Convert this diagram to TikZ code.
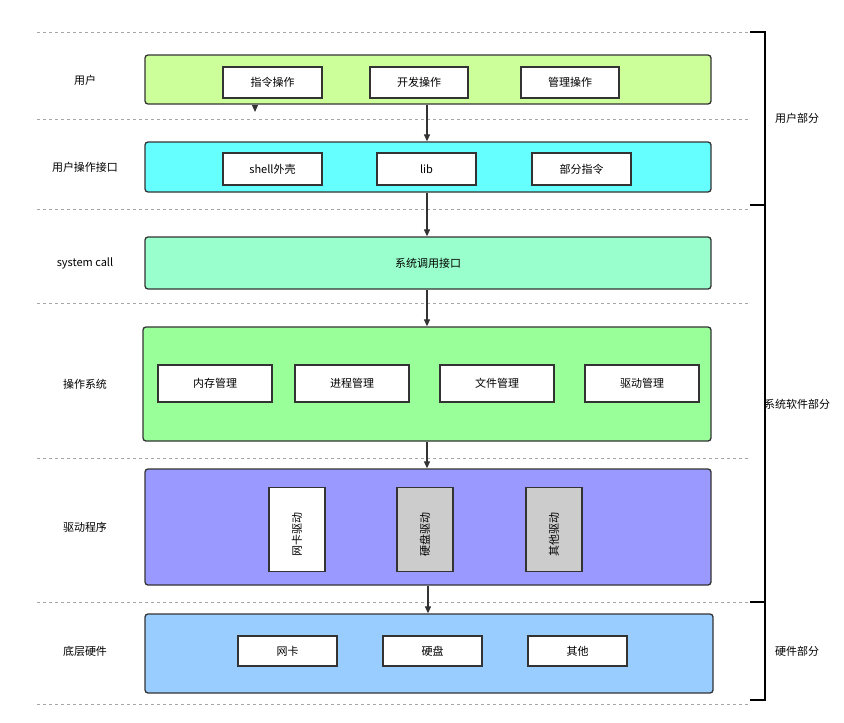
\documentclass[tikz,border=0pt]{standalone}
\usepackage{fontspec}
\setmainfont{Noto Sans CJK SC}
\usetikzlibrary{shapes.geometric,arrows.meta}
\begin{document}
\begin{tikzpicture}[x=1pt,y=-1pt,font=\fontsize{11}{13}\selectfont,
  band/.style={draw=black!80,line width=1.3pt,rounded corners=3pt},
  inb/.style={draw=black!80,line width=1.2pt,fill=white,inner sep=0pt},
  sepline/.style={gray!70,dashed,line width=0.8pt},
  arr/.style={-{Triangle[length=7pt,width=6pt]},line width=1.2pt,black!80},
  cyl/.style={cylinder,shape border rotate=90,aspect=0.25,draw=black!80,line width=1.2pt,minimum width=56pt,minimum height=84pt,inner sep=0pt}]
\useasboundingbox (0,0) rectangle (844,723);
\foreach \y in {32,119,209,303,458,602,704} \draw[sepline] (37,\y) -- (748,\y);
\draw[line width=1.2pt] (750,32) -- (765,32) -- (765,700) -- (750,700);
\draw[line width=1.2pt] (750,205) -- (765,205);
\draw[line width=1.2pt] (750,602) -- (765,602);
\node (p1) at (797,118) {用户部分};
\node (p2) at (797,404) {系统软件部分};
\node (p3) at (797,651) {硬件部分};
% bands
\node[band,fill={rgb,255:red,204;green,255;blue,153},minimum width=566pt,minimum height=49pt] (b1) at (428,79.5) {};
\node[band,fill={rgb,255:red,102;green,255;blue,255},minimum width=566pt,minimum height=50pt] (b2) at (428,167) {};
\node[band,fill={rgb,255:red,153;green,255;blue,204},minimum width=566pt,minimum height=52pt] (b3) at (428,263) {系统调用接口};
\node[band,fill={rgb,255:red,153;green,255;blue,153},minimum width=568pt,minimum height=114pt] (b4) at (427,384) {};
\node[band,fill={rgb,255:red,153;green,153;blue,255},minimum width=566pt,minimum height=116pt] (b5) at (428,527) {};
\node[band,fill={rgb,255:red,153;green,204;blue,255},minimum width=568pt,minimum height=79pt] (b6) at (429,653.5) {};
% left labels
\node (l1) at (85,80) {用户};
\node (l2) at (85,167) {用户操作接口};
\node (l3) at (85,263) {system call};
\node (l4) at (85,384) {操作系统};
\node (l5) at (85,527) {驱动程序};
\node (l6) at (85,651) {底层硬件};
% inner boxes
\node[inb,minimum width=99pt,minimum height=31pt] (a1) at (272.5,82.5) {指令操作};
\node[inb,minimum width=98pt,minimum height=31pt] (a2) at (419,82.5) {开发操作};
\node[inb,minimum width=98pt,minimum height=31pt] (a3) at (570,82.5) {管理操作};
\node[inb,minimum width=99pt,minimum height=32pt] (c1) at (272.5,169) {shell外壳};
\node[inb,minimum width=99pt,minimum height=32pt] (c2) at (426.5,169) {lib};
\node[inb,minimum width=99pt,minimum height=32pt] (c3) at (581.5,169) {部分指令};
\node[inb,minimum width=114pt,minimum height=37pt] (d1) at (215,383.5) {内存管理};
\node[inb,minimum width=114pt,minimum height=37pt] (d2) at (352,383.5) {进程管理};
\node[inb,minimum width=114pt,minimum height=37pt] (d3) at (497,383.5) {文件管理};
\node[inb,minimum width=114pt,minimum height=37pt] (d4) at (642,383.5) {驱动管理};
\node[cyl,fill=white] (e1) at (297,530) {};
\node[rotate=90] (e1t) at (297,534) {网卡驱动};
\node[cyl,fill=black!20] (e2) at (425,530) {};
\node[rotate=90] (e2t) at (425,534) {硬盘驱动};
\node[cyl,fill=black!20] (e3) at (554,530) {};
\node[rotate=90] (e3t) at (554,534) {其他驱动};
\node[inb,minimum width=99pt,minimum height=30pt] (f1) at (287.5,651) {网卡};
\node[inb,minimum width=99pt,minimum height=30pt] (f2) at (432.5,651) {硬盘};
\node[inb,minimum width=99pt,minimum height=30pt] (f3) at (577.5,651) {其他};
% arrows
\draw[arr] (b1.south -| 427,0) -- (b2.north -| 427,0);
\draw[arr] (b2.south -| 427,0) -- (b3.north -| 427,0);
\draw[arr] (b3.south -| 427,0) -- (b4.north -| 427,0);
\draw[arr] (b4.south -| 427,0) -- (b5.north -| 427,0);
\draw[arr] (b5.south -| 428,0) -- (b6.north -| 428,0);
\coordinate (s1) at (255,112);
\draw[arr] (b1.south -| s1) -- (s1);
\end{tikzpicture}
\end{document}
